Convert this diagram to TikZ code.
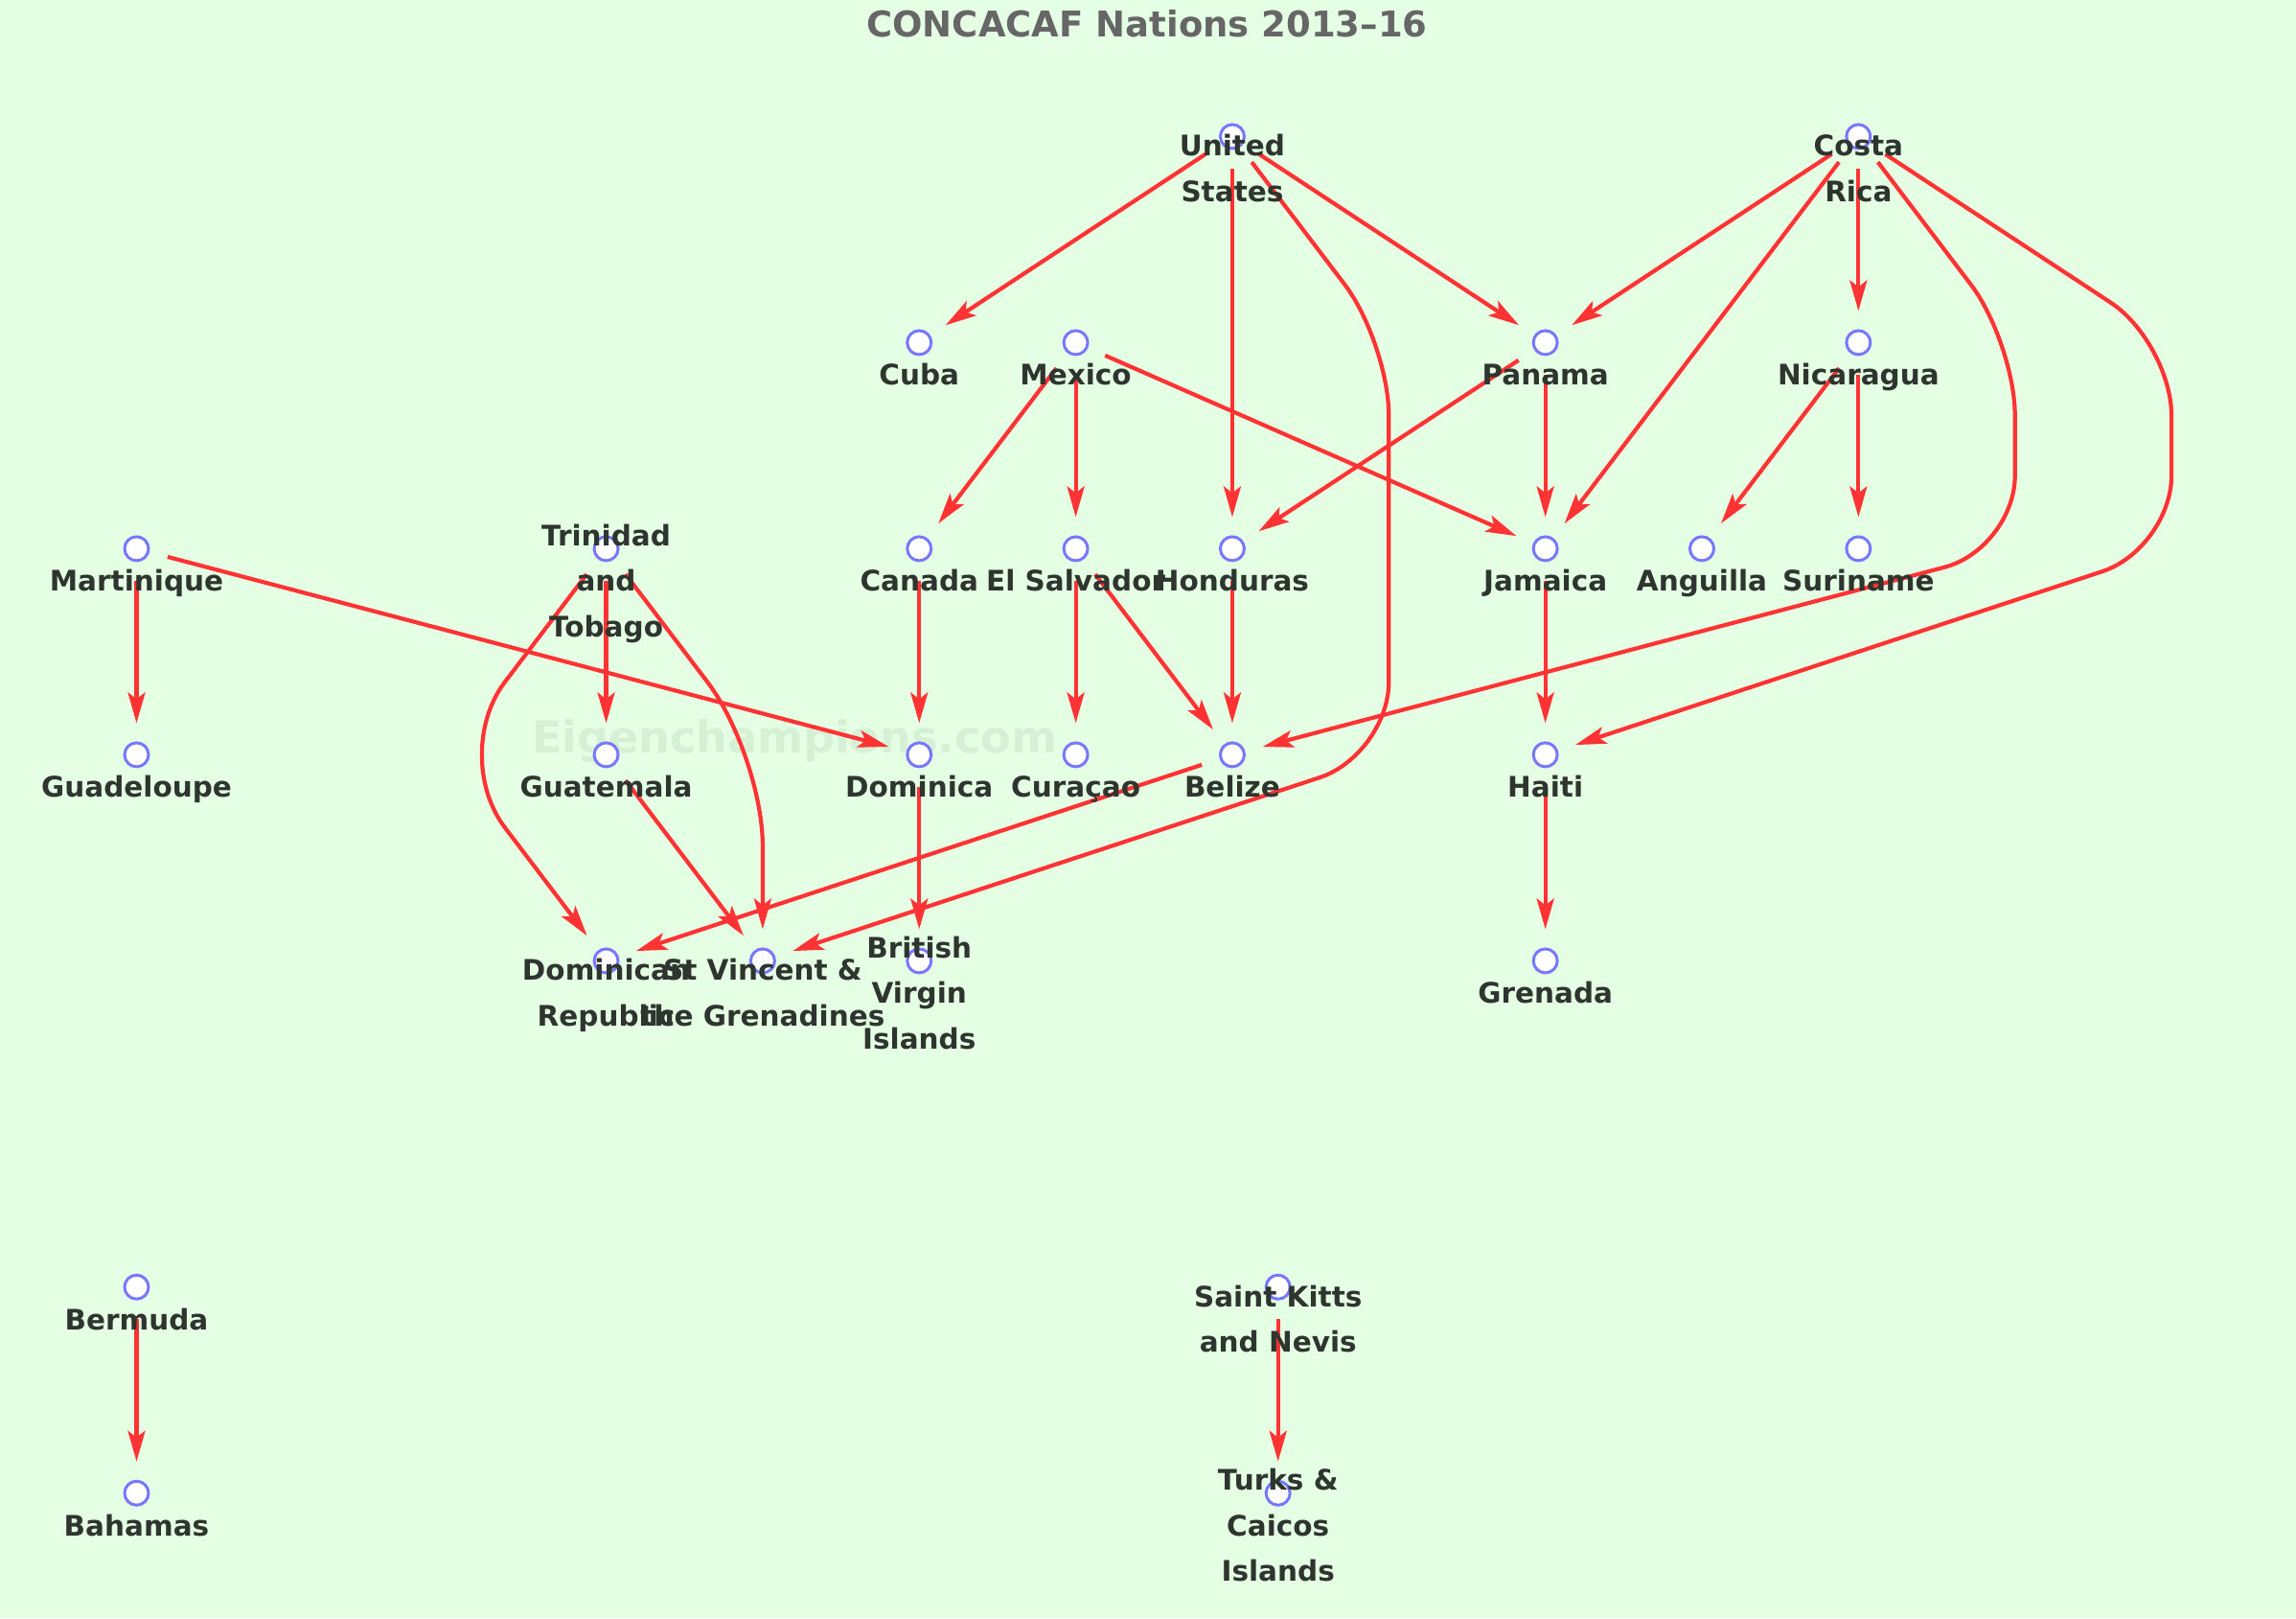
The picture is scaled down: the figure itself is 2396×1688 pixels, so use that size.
\documentclass[tikz,border=0pt]{standalone}
\usepackage{fontspec}
\setmainfont{DejaVu Sans}
\usetikzlibrary{arrows.meta}
\definecolor{bgc}{RGB}{229,255,229}
\definecolor{wmc}{RGB}{214,240,214}
\definecolor{edgec}{RGB}{255,51,51}
\definecolor{dotc}{RGB}{119,119,255}
\definecolor{txtc}{RGB}{46,52,46}
\definecolor{titc}{RGB}{102,102,102}
\pgfdeclarelayer{back}
\pgfdeclarelayer{edges}
\pgfdeclarelayer{labels}
\pgfsetlayers{back,edges,main,labels}
\newcommand\nation[5]{%
  \node[dot] (#1) at (#2,#3) {};
  \begin{pgfonlayer}{labels}
    \node[lbl] (#1-l) at (#2,{#3+44.4+23.85*(#4-1)}) {#5};
  \end{pgfonlayer}}
\begin{document}
\begin{tikzpicture}[x=1bp,y=-1bp,
  dot/.style={circle, draw=dotc, fill=white, line width=3bp, minimum size=25bp, inner sep=0pt, outer sep=0pt},
  lbl/.style={anchor=base, align=center, text=txtc, inner sep=0pt, font=\fontsize{29.5bp}{47.7bp}\selectfont\bfseries},
  link/.style={draw=edgec, line width=4.2bp, -{Stealth[length=32bp,width=18bp,inset=7bp]}, shorten <=21bp, shorten >=20.5bp, rounded corners=76bp},
  wide/.style={rounded corners=95bp}]
\useasboundingbox (0,0) rectangle (2396,1688);
\begin{pgfonlayer}{back}
  \fill[bgc] (0,0) rectangle (2396,1688);
  \node[anchor=base, inner sep=0pt, text=wmc, font=\fontsize{46bp}{50bp}\selectfont\bfseries] (wmark) at (829,785) {Eigenchampions.com};
\end{pgfonlayer}
\node[anchor=base, inner sep=0pt, text=titc, font=\fontsize{37bp}{40bp}\selectfont\bfseries] (title) at (1197,38) {CONCACAF Nations 2013–16};
% row 0
\nation{us}{1285.95}{142.4}{2}{United\\States}
\nation{cr}{1939.35}{142.4}{2}{Costa\\Rica}
% row 1
\nation{cuba}{959.25}{357.4}{1}{Cuba}
\nation{mex}{1122.6}{357.4}{1}{Mexico}
\nation{pan}{1612.65}{357.4}{1}{Panama}
\nation{nic}{1939.35}{357.4}{1}{Nicaragua}
% row 2
\nation{mtq}{142.5}{572.4}{1}{Martinique}
\nation{tt}{632.55}{572.4}{3}{Trinidad\\and\\Tobago}
\nation{can}{959.25}{572.4}{1}{Canada}
\nation{slv}{1122.6}{572.4}{1}{El Salvador}
\nation{hon}{1285.95}{572.4}{1}{Honduras}
\nation{jam}{1612.65}{572.4}{1}{Jamaica}
\nation{aia}{1776.0}{572.4}{1}{Anguilla}
\nation{sur}{1939.35}{572.4}{1}{Suriname}
% row 3
\nation{glp}{142.5}{787.4}{1}{Guadeloupe}
\nation{gua}{632.55}{787.4}{1}{Guatemala}
\nation{dma}{959.25}{787.4}{1}{Dominica}
\nation{cuw}{1122.6}{787.4}{1}{Curaçao}
\nation{blz}{1285.95}{787.4}{1}{Belize}
\nation{hai}{1612.65}{787.4}{1}{Haiti}
% row 4
\nation{dom}{632.55}{1002.4}{2}{Dominican\\Republic}
\nation{vin}{795.9}{1002.4}{2}{St Vincent \&\\the Grenadines}
\nation{vgb}{959.25}{1002.4}{3}{British\\Virgin\\Islands}
\nation{grn}{1612.65}{1002.4}{1}{Grenada}
% bottom
\nation{ber}{142.5}{1342.7}{1}{Bermuda}
\nation{bah}{142.5}{1557.7}{1}{Bahamas}
\nation{skn}{1333.7}{1342.7}{2}{Saint Kitts\\and Nevis}
\nation{tca}{1333.7}{1557.7}{3}{Turks \&\\Caicos\\Islands}
% waypoints
\coordinate (w1) at (1449.3,357.4);
\coordinate (w2) at (1449.3,787.4);
\coordinate (w3) at (2102.7,357.4);
\coordinate (w4) at (2102.7,572.4);
\coordinate (w5) at (2266.05,357.4);
\coordinate (w6) at (2266.05,572.4);
\coordinate (w7) at (469.2,787.4);
\coordinate (w8) at (795.9,787.4);
\begin{pgfonlayer}{edges}
\draw[link] (us) -- (cuba);
\draw[link] (us) -- (hon);
\draw[link] (us) -- (pan);
\draw[link] (us) -- (w1) -- (w2) -- (vin);
\draw[link] (cr) -- (pan);
\draw[link] (cr) -- (jam);
\draw[link] (cr) -- (nic);
\draw[link] (cr) -- (w3) -- (w4) -- (blz);
\draw[link] (cr) -- (w5) -- (w6) -- (hai);
\draw[link] (mex) -- (can);
\draw[link] (mex) -- (slv);
\draw[link] (mex) -- (jam);
\draw[link] (pan) -- (hon);
\draw[link] (pan) -- (jam);
\draw[link] (nic) -- (aia);
\draw[link] (nic) -- (sur);
\draw[link] (mtq) -- (glp);
\draw[link] (mtq) -- (dma);
\draw[link] (tt) -- (gua);
\draw[link,wide] (tt) -- (w7) -- (dom);
\draw[link,wide] (tt) -- (w8) -- (vin);
\draw[link] (can) -- (dma);
\draw[link] (slv) -- (cuw);
\draw[link] (slv) -- (blz);
\draw[link] (hon) -- (blz);
\draw[link] (jam) -- (hai);
\draw[link] (gua) -- (vin);
\draw[link] (dma) -- (vgb);
\draw[link] (blz) -- (dom);
\draw[link] (hai) -- (grn);
\draw[link] (ber) -- (bah);
\draw[link] (skn) -- (tca);
\end{pgfonlayer}
\end{tikzpicture}
\end{document}
